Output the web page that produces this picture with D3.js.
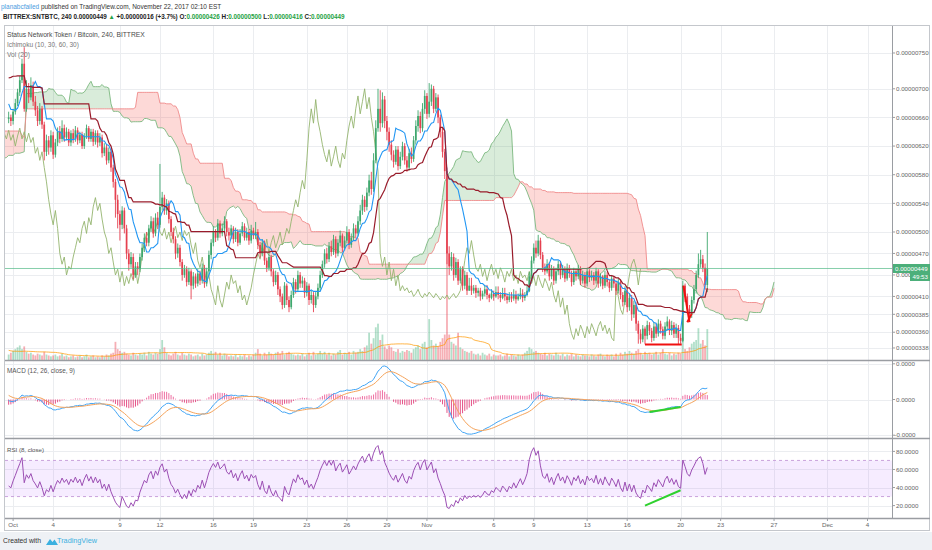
<!DOCTYPE html>
<html><head><meta charset="utf-8">
<script src="https://cdn.jsdelivr.net/npm/d3@7/dist/d3.min.js"></script>
<style>
html,body{margin:0;padding:0;background:#fff;}
svg{display:block;font-family:"Liberation Sans",Arial,sans-serif;}
</style></head><body>
<svg id="c" width="932" height="550"></svg>
<script>
// ---------------- DATA (prices in satoshi = 1e-8 BTC) ----------------
// history before the visible window (needed for the Ichimoku cloud / MACD warm-up)
const firstOpen = 660;
const preCloses = [660,668,675,670,685,700,712,695,690,705,688,680,692,676,670,682,665,672,660,668,
655,662,648,652,640,645,632,638,625,630,620,626,615,622,610,616,605,612,600,608,598,604,595,600,590,596,
585,590,578,582,572,576,566,570,560,565,562,558,640,648,
655,645,652,660,650,656,662,655,720,
710,735,742,725,712,730,748,722,708,720,700,710,
685,670,690,675,662,676,652,666,658];
const preHighs = [666,672,680,680,690,706,728,716,700,710,708,692,698,696,680,688,686,678,676,672,
670,666,664,658,654,650,648,642,640,634,634,630,628,626,624,620,618,616,614,612,610,608,606,604,602,600,
598,594,592,586,584,580,578,574,572,568,568,566,652,654,
660,658,658,666,662,660,668,664,790,
740,748,760,748,730,738,756,752,726,725,722,714,
712,690,696,694,678,680,680,670,670];
const preLows = [654,656,664,664,666,680,696,690,684,686,682,674,676,670,664,666,660,660,654,656,
650,650,642,644,634,636,628,628,620,620,616,616,610,610,604,606,600,600,594,596,592,594,590,590,584,586,
580,580,574,574,566,568,560,562,556,556,556,554,560,640,
644,640,642,650,645,648,652,648,650,
698,706,728,716,704,708,725,715,700,702,694,696,
680,664,666,668,655,658,646,648,652];
const preVolumes = [6,5,7,6,8,9,12,7,6,8,5,6,7,5,4,6,5,6,4,5,
5,4,6,5,4,5,6,4,5,3,4,5,4,6,3,4,5,4,3,5,4,6,3,4,5,4,
5,6,4,5,6,7,5,6,7,6,8,6,7,5,
8,9,6,7,8,6,7,9,40,
25,22,20,16,14,15,18,12,10,11,9,10,
8,9,10,7,6,8,9,7,8];

// visible 4h bars, first bar = 30 Sep 2017 16:00
const closes = [
660,655,668,680,695,712,735,672,700,688,
705,682,670,655,672,650,612,628,618,635,
608,625,640,630,645,632,640,625,638,630,
642,628,636,620,634,645,630,640,626,638,
625,632,610,618,600,612,590,570,545,525,
510,530,505,470,455,465,440,452,448,465,
478,492,485,505,515,498,520,510,535,548,
530,540,518,500,490,470,478,458,440,448,
430,445,425,438,428,442,432,450,428,445,
468,485,500,492,512,498,505,515,500,495,
505,490,500,485,498,508,492,500,488,502,
495,500,482,470,485,460,450,465,445,430,
440,420,410,398,425,405,395,412,430,420,
440,428,432,415,425,405,412,398,410,422,
440,455,470,462,480,472,490,470,485,495,
478,488,500,482,492,505,498,515,530,545,
535,555,572,560,600,645,672,652,685,655,
640,622,608,598,615,592,605,620,600,590,
610,602,628,648,662,645,672,690,665,682,
700,672,688,660,640,612,585,470,452,465,
440,458,432,448,425,440,418,425,418,422,
415,418,410,414,420,412,408,414,410,416,
412,408,414,410,405,410,407,412,406,410,
414,408,412,418,438,460,478,470,488,468,
450,445,455,438,448,432,445,455,440,448,
435,450,442,430,445,438,448,432,440,428,
445,436,440,432,445,428,438,425,440,430,
422,435,428,418,430,412,402,418,395,408,
385,398,372,358,350,365,355,370,362,352,
368,358,372,364,355,368,375,362,370,358,
366,352,348,425,410,392,385,405,420,440,
455,462,450,426,449];
const highs = [
668,664,672,686,700,718,742,758,712,708,
716,710,690,676,680,676,654,636,634,642,
640,630,646,648,656,650,646,644,642,644,
648,646,640,640,638,650,648,644,644,642,
642,638,636,624,622,618,616,594,574,552,
530,536,534,510,476,472,470,458,458,470,
484,498,500,510,522,520,526,528,595,556,
552,546,544,522,506,494,484,482,462,454,
452,450,448,444,442,448,446,456,454,450,
474,490,508,504,518,516,512,522,518,506,
510,508,506,504,504,514,512,506,504,510,
506,514,504,486,490,488,464,470,468,448,
446,444,424,414,430,428,410,418,436,434,
446,444,438,436,430,428,418,416,416,428,
446,460,476,478,486,488,496,494,490,502,
498,494,508,504,498,512,510,522,538,552,
550,562,580,584,610,656,700,698,695,690,
662,646,628,614,620,620,612,626,624,606,
616,618,634,656,670,668,680,698,694,708,
706,704,694,692,664,646,616,590,480,472,
470,464,462,452,452,446,444,436,436,426,
426,422,422,418,426,426,414,420,418,424,
424,416,422,422,414,416,416,420,418,414,
422,420,416,426,444,466,484,488,496,492,
472,456,462,458,454,452,450,460,458,454,
452,456,454,446,450,448,454,452,446,444,
450,448,446,444,450,448,442,440,446,444,
434,440,438,432,436,434,416,424,422,414,
412,404,402,376,364,370,368,376,374,366,
374,372,378,376,368,374,382,378,376,374,
372,370,358,432,428,414,398,410,426,446,
470,475,468,456,500];
const lows = [
652,648,650,664,676,690,708,668,668,680,
684,676,662,648,650,644,600,606,608,612,
602,604,620,624,626,626,628,620,620,624,
626,622,624,616,616,630,626,626,620,622,
618,620,604,606,594,596,584,562,520,505,
488,504,498,462,446,450,434,436,440,444,
460,472,480,480,500,492,494,504,506,530,
524,524,512,494,484,462,464,452,432,436,
424,426,406,420,422,424,426,428,422,424,
440,462,480,486,488,492,494,500,494,488,
490,484,486,480,482,494,488,488,482,484,
490,490,476,464,466,454,444,446,438,424,
426,412,402,392,394,398,388,392,408,414,
416,422,422,408,410,398,400,388,394,406,
418,436,450,456,458,466,468,464,466,480,
472,474,484,476,478,488,492,494,510,524,
528,530,550,552,556,596,640,640,646,645,
628,612,600,590,594,586,588,600,594,584,
586,596,598,622,640,638,640,665,658,660,
676,666,668,652,632,604,574,455,440,446,
432,436,426,428,418,420,412,418,412,414,
408,410,404,406,410,406,402,406,404,408,
406,402,406,404,400,402,402,404,400,404,
406,402,404,410,416,434,456,464,466,462,
444,440,442,432,434,426,428,440,434,436,
430,432,436,424,426,432,434,426,428,422,
424,430,432,426,428,422,424,420,422,424,
416,418,422,412,414,406,396,398,388,390,
376,380,362,344,344,346,343,350,356,346,
348,352,354,358,350,350,362,356,356,352,
352,343,344,346,402,386,378,380,400,414,
436,450,444,420,416];
const volumes = [
6,8,10,12,14,16,12,15,9,7,
8,6,5,7,6,5,9,6,5,4,
5,6,4,5,7,4,5,3,4,5,
3,4,5,3,4,6,3,4,5,3,
4,3,5,4,6,5,7,8,20,12,
10,8,9,7,6,5,8,6,5,7,
6,8,5,9,7,6,8,7,12,22,
14,8,6,5,7,9,6,5,8,6,
5,7,6,4,5,6,4,7,5,6,
8,10,7,9,6,8,5,7,6,4,
5,4,6,3,5,4,6,3,5,4,
6,8,12,7,5,8,6,9,7,6,
8,9,7,10,6,8,9,7,6,5,
6,5,7,4,6,8,5,9,6,7,
10,7,9,6,8,5,7,6,9,11,
6,8,7,9,6,10,8,9,12,10,
14,16,30,18,24,36,40,22,28,15,
12,16,14,10,9,12,8,10,9,11,
10,8,12,14,16,12,18,20,14,45,
22,16,18,15,20,24,28,120,28,20,
18,16,30,14,12,10,9,8,10,7,
6,7,5,8,6,5,7,4,6,5,
5,6,4,5,7,4,6,5,4,6,
5,6,8,10,14,12,9,10,8,7,
6,8,5,7,6,5,8,6,5,7,
4,6,5,7,4,6,5,4,6,5,
5,4,6,5,4,6,7,5,4,6,
5,6,4,7,5,8,6,9,7,10,
8,7,10,12,8,6,9,7,8,6,
7,9,6,8,12,7,6,8,5,7,
6,8,7,25,12,10,14,18,20,22,
35,18,22,16,34];

// axis ticks
const priceTicks = [750,700,660,620,580,540,500,470,440,410,385,360,338];
const rsiTicks = [80,60,40,20];
const rsiBand = [70,30];
const tickDates = ["2017-10-01","2017-10-04","2017-10-09","2017-10-12","2017-10-16","2017-10-19","2017-10-23","2017-10-26","2017-10-29","2017-11-01","2017-11-06","2017-11-09","2017-11-13","2017-11-16","2017-11-20","2017-11-23","2017-11-27","2017-12-01","2017-12-04"];
const tickLabels = ["Oct","4","9","12","16","19","23","26","29","Nov","6","9","13","16","20","23","27","Dec","4"];

// hand-drawn annotations [start time, start value, end time, end value]
const priceLinesDrawn = [
  ["2017-11-17T08:00Z",343,"2017-11-20T02:00Z",343],
  ["2017-11-20T05:00Z",425,"2017-11-20T16:00Z",374],
  ["2017-11-20T12:00Z",374,"2017-11-20T20:00Z",386]];
const macdLineDrawn = ["2017-11-17T16:00Z","2017-11-20T00:00Z"];
const rsiLineDrawn = ["2017-11-17T08:00Z",20,"2017-11-20T00:00Z",37];

// ---------------- SETUP ----------------
const svg = d3.select("#c");
const PL = 5, PR = 892;
const P1 = {t:26, b:360}, P2 = {t:361, b:438}, P3 = {t:439, b:518};
const BAR = 4*3600*1000;
const t0 = Date.UTC(2017,8,30,16);
const nPre = preCloses.length;
const C = preCloses.concat(closes);
const Hi = preHighs.concat(highs);
const Lo = preLows.concat(lows);
const V = preVolumes.concat(volumes);
const N = C.length;
const O = C.map((c,k)=> k ? C[k-1] : firstOpen);
for (let k=0;k<N;k++){ Hi[k]=Math.max(Hi[k],O[k],C[k]); Lo[k]=Math.min(Lo[k],O[k],C[k]); }
const T = k => new Date(t0 + (k-nPre)*BAR);

const x = d3.scaleUtc().domain([new Date(Date.UTC(2017,9,1)), new Date(Date.UTC(2017,11,1))]).range([13.1, 827.45]);
const y = d3.scaleLinear().domain([321.2, 787.7]).range([P1.b, P1.t]);
const yR = d3.scaleLinear().domain([6.3, 93.7]).range([P3.b, P3.t]);
const yV = d3.scaleLinear().domain([0, d3.max(volumes)]).range([P1.b, P1.b-109]);

// ---------------- INDICATORS ----------------
function mid(k,p){ let h=-Infinity,l=Infinity; for(let j=Math.max(0,k-p+1);j<=k;j++){ if(Hi[j]>h)h=Hi[j]; if(Lo[j]<l)l=Lo[j]; } return (h+l)/2; }
const tenkan = d3.range(N).map(k=>mid(k,10));
const kijun  = d3.range(N).map(k=>mid(k,30));
const cloud  = d3.range(N).map(k=>({t:T(k+30), a:(tenkan[k]+kijun[k])/2, b:mid(k,60)}));
const chikou = d3.range(N).map(k=>({t:T(k-30), v:C[k]}));
function ema(arr,p){ const a=2/(p+1); let prev=arr[0]; return arr.map((v,i)=> prev = i ? a*v+(1-a)*prev : v); }
const e12=ema(C,12), e26=ema(C,26);
const macd = C.map((c,k)=>e12[k]-e26[k]);
const signal = ema(macd,9);
const hist = macd.map((m,k)=>m-signal[k]);
const rsi = new Array(N).fill(null);
{ let ag=0, al=0; const p=8;
  for (let k=1;k<N;k++){ const ch=C[k]-C[k-1], g=Math.max(ch,0), l=Math.max(-ch,0);
    if (k<=p){ ag+=g/p; al+=l/p; if(k===p) rsi[k]=al===0?100:100-100/(1+ag/al); }
    else { ag=(ag*(p-1)+g)/p; al=(al*(p-1)+l)/p; rsi[k]=al===0?100:100-100/(1+ag/al); } } }
const volMA = V.map((v,k)=> k<19 ? null : d3.mean(V.slice(k-19,k+1)));

const vis = d3.range(nPre, N);
const maxAbs = d3.max(vis, k=>Math.max(Math.abs(macd[k]),Math.abs(signal[k])));
const D = maxAbs/0.9;
const yM = d3.scaleLinear().domain([-D, D]).range([P2.b, P2.t]);
const macdTicks = [D*0.927, 0, -D*0.927];

// ---------------- DRAW ----------------
const defs = svg.append("defs");
[["c1",P1],["c2",P2],["c3",P3]].forEach(([id,p])=>{
  defs.append("clipPath").attr("id",id).append("rect").attr("x",PL).attr("y",p.t).attr("width",PR-PL).attr("height",p.b-p.t);
});
svg.append("rect").attr("x",0).attr("y",532).attr("width",932).attr("height",18).attr("fill","#eef1f5");

const grid = svg.append("g").attr("stroke","#ebedf0").attr("stroke-width",1);
tickDates.forEach(d=>{ const xx=Math.round(x(new Date(d+"T00:00:00Z")))+0.5;
  grid.append("line").attr("x1",xx).attr("x2",xx).attr("y1",P1.t).attr("y2",P3.b); });
priceTicks.forEach(v=>{ const yy=Math.round(y(v))+0.5; grid.append("line").attr("x1",PL).attr("x2",PR).attr("y1",yy).attr("y2",yy); });
macdTicks.forEach(v=>{ const yy=Math.round(yM(v))+0.5; grid.append("line").attr("x1",PL).attr("x2",PR).attr("y1",yy).attr("y2",yy); });
rsiTicks.forEach(v=>{ const yy=Math.round(yR(v))+0.5; grid.append("line").attr("x1",PL).attr("x2",PR).attr("y1",yy).attr("y2",yy); });

// ---- price pane
const g1 = svg.append("g").attr("clip-path","url(#c1)");
const ax = d => x(d.t);
g1.append("path").datum(cloud).attr("fill","rgba(67,160,71,0.2)")
  .attr("d", d3.area().x(ax).y0(d=>y(d.b)).y1(d=>y(Math.max(d.a,d.b))));
g1.append("path").datum(cloud).attr("fill","rgba(244,67,54,0.2)")
  .attr("d", d3.area().x(ax).y0(d=>y(d.a)).y1(d=>y(Math.max(d.a,d.b))));
g1.append("path").datum(cloud).attr("fill","none").attr("stroke","#7cb87f").attr("stroke-width",0.9)
  .attr("d", d3.line().x(ax).y(d=>y(d.a)));
g1.append("path").datum(cloud).attr("fill","none").attr("stroke","#ef8a8a").attr("stroke-width",0.9)
  .attr("d", d3.line().x(ax).y(d=>y(d.b)));
// volume
g1.append("g").selectAll("rect").data(vis).join("rect")
  .attr("x",k=>x(T(k))-0.9).attr("width",1.8)
  .attr("y",k=>yV(V[k])).attr("height",k=>P1.b-yV(V[k]))
  .attr("fill",k=> C[k]>=O[k] ? "rgba(83,185,135,0.45)" : "rgba(235,77,92,0.45)");
g1.append("path").datum(vis).attr("fill","none").attr("stroke","#ff9800").attr("stroke-opacity",0.8).attr("stroke-width",0.9)
  .attr("d", d3.line().x(k=>x(T(k))).y(k=>yV(volMA[k])));
// chikou
g1.append("path").datum(chikou).attr("fill","none").attr("stroke","#94b46e").attr("stroke-width",0.9)
  .attr("d", d3.line().x(ax).y(d=>y(d.v)));
// candles
const up="#3ea76d", dn="#e5404f";
const cg = g1.append("g");
cg.selectAll("line").data(vis).join("line")
  .attr("x1",k=>x(T(k))).attr("x2",k=>x(T(k))).attr("y1",k=>y(Hi[k])).attr("y2",k=>y(Lo[k]))
  .attr("stroke",k=>C[k]>=O[k]?up:dn).attr("stroke-width",0.9);
cg.selectAll("rect").data(vis).join("rect")
  .attr("x",k=>x(T(k))-0.85).attr("width",1.7)
  .attr("y",k=>y(Math.max(O[k],C[k]))).attr("height",k=>Math.max(0.8,Math.abs(y(O[k])-y(C[k]))))
  .attr("fill",k=>C[k]>=O[k]?up:dn);
// tenkan / kijun
g1.append("path").datum(vis).attr("fill","none").attr("stroke","#2196f3").attr("stroke-width",1.1)
  .attr("d", d3.line().x(k=>x(T(k))).y(k=>y(tenkan[k])));
g1.append("path").datum(vis).attr("fill","none").attr("stroke","#991c2b").attr("stroke-width",1.2)
  .attr("d", d3.line().x(k=>x(T(k))).y(k=>y(kijun[k])));
// last price line
const lastC = closes[closes.length-1];
g1.append("line").attr("x1",PL).attr("x2",PR).attr("y1",y(lastC)).attr("y2",y(lastC))
  .attr("stroke","#53b987").attr("stroke-opacity",0.7).attr("stroke-width",1);
// drawings
priceLinesDrawn.forEach(([d1,v1,d2,v2])=>{
  g1.append("line").attr("x1",x(new Date(d1))).attr("y1",y(v1)).attr("x2",x(new Date(d2))).attr("y2",y(v2))
    .attr("stroke","#f01010").attr("stroke-width",2);
});

// ---- MACD pane
const g2 = svg.append("g").attr("clip-path","url(#c2)");
g2.append("g").selectAll("line").data(vis).join("line")
  .attr("x1",k=>x(T(k))).attr("x2",k=>x(T(k))).attr("y1",yM(0)).attr("y2",k=>yM(hist[k]))
  .attr("stroke",k=> hist[k]>=0 ? "#ec5f98" : "#e2407a").attr("stroke-width",0.9);
g2.append("path").datum(vis).attr("fill","none").attr("stroke","#42a5f5").attr("stroke-width",1)
  .attr("d", d3.line().x(k=>x(T(k))).y(k=>yM(macd[k])));
g2.append("path").datum(vis).attr("fill","none").attr("stroke","#f5a35a").attr("stroke-width",1)
  .attr("d", d3.line().x(k=>x(T(k))).y(k=>yM(signal[k])));
{ const k1 = nPre + Math.round((new Date(macdLineDrawn[0]) - t0)/BAR), k2 = nPre + Math.round((new Date(macdLineDrawn[1]) - t0)/BAR);
  g2.append("line").attr("x1",x(T(k1))).attr("y1",yM(macd[k1])).attr("x2",x(T(k2))).attr("y2",yM(macd[k2]))
    .attr("stroke","#2fd12f").attr("stroke-width",2); }

// ---- RSI pane
const g3 = svg.append("g").attr("clip-path","url(#c3)");
g3.append("rect").attr("x",PL).attr("width",PR-PL).attr("y",yR(rsiBand[0])).attr("height",yR(rsiBand[1])-yR(rsiBand[0]))
  .attr("fill","rgba(170,80,255,0.11)");
rsiBand.forEach(v=> g3.append("line").attr("x1",PL).attr("x2",PR).attr("y1",yR(v)).attr("y2",yR(v))
  .attr("stroke","#c9a3dc").attr("stroke-dasharray","3,3").attr("stroke-width",1));
g3.append("path").datum(vis.filter(k=>rsi[k]!==null)).attr("fill","none").attr("stroke","#9c4fb4").attr("stroke-width",1)
  .attr("d", d3.line().x(k=>x(T(k))).y(k=>yR(rsi[k])));
g3.append("line").attr("x1",x(new Date(rsiLineDrawn[0]))).attr("y1",yR(rsiLineDrawn[1]))
  .attr("x2",x(new Date(rsiLineDrawn[2]))).attr("y2",yR(rsiLineDrawn[3]))
  .attr("stroke","#2fd12f").attr("stroke-width",2);

// ---- frame & separators
svg.append("rect").attr("x",4.5).attr("y",25.5).attr("width",925).attr("height",505).attr("fill","none").attr("stroke","#c4c7cc");
svg.append("line").attr("x1",PR+0.5).attr("x2",PR+0.5).attr("y1",P1.t).attr("y2",P3.b).attr("stroke","#9a9da2");
[P1.b+0.5, P2.b+0.5, P3.b+0.5].forEach(yy=> svg.append("line").attr("x1",PL).attr("x2",930).attr("y1",yy).attr("y2",yy)
  .attr("stroke","#9a9da2").attr("stroke-width",1.4));

// ---- axes text
const lastC0 = closes[closes.length-1];
const yLast = y(lastC0);
const axisTxt = svg.append("g").attr("font-size",6.2).attr("fill","#666");
priceTicks.forEach(v=>{ const yy=y(v);
  axisTxt.append("line").attr("x1",PR).attr("x2",PR+3).attr("y1",yy).attr("y2",yy).attr("stroke","#9a9da2");
  let s=(v*1e-8).toFixed(8);
  if (yy>yLast+2 && yy<yLast+14) s = s.slice(0,5);   // label half hidden behind the countdown box
  axisTxt.append("text").attr("x",896).attr("y",yy+2.2).text(s); });
macdTicks.forEach(v=>{ const yy=yM(v);
  axisTxt.append("line").attr("x1",PR).attr("x2",PR+3).attr("y1",yy).attr("y2",yy).attr("stroke","#9a9da2");
  axisTxt.append("text").attr("x",v<0?894.5:896).attr("y",yy+2.2).text((v*1e-8).toFixed(4)); });
rsiTicks.forEach(v=>{ const yy=yR(v);
  axisTxt.append("line").attr("x1",PR).attr("x2",PR+3).attr("y1",yy).attr("y2",yy).attr("stroke","#9a9da2");
  axisTxt.append("text").attr("x",896).attr("y",yy+2.2).text(v.toFixed(4)); });
tickDates.forEach((d,i)=>{ const xx=x(new Date(d+"T00:00:00Z"));
  axisTxt.append("line").attr("x1",xx).attr("x2",xx).attr("y1",P3.b).attr("y2",P3.b+3).attr("stroke","#9a9da2");
  axisTxt.append("text").attr("x",xx).attr("y",526.5).attr("text-anchor","middle").text(tickLabels[i]); });

// last price label
{ const yy=yLast;
  svg.append("rect").attr("x",PR+1).attr("y",yy-4.5).attr("width",37).attr("height",9).attr("fill","#4caf7a");
  svg.append("text").attr("x",895).attr("y",yy+2.2).attr("font-size",6.2).attr("fill","#fff").text((lastC0*1e-8).toFixed(8));
  svg.append("rect").attr("x",910).attr("y",yy+4.5).attr("width",20).attr("height",8).attr("fill","#4caf7a");
  svg.append("text").attr("x",912.5).attr("y",yy+10.8).attr("font-size",6.2).attr("fill","#fff").text("49:53"); }

// ---- legends & header (font size fitted to the reference text widths)
function fit(t,w){ const n=t.node(); const len=n.getComputedTextLength(); if(len>0) t.attr("font-size", (+t.attr("font-size"))*w/len); return t; }
function txt(xp,yp,size,color,str,w,weight){ const t=svg.append("text").attr("x",xp).attr("y",yp).attr("font-size",size).attr("fill",color).text(str);
  if(weight) t.attr("font-weight",weight); if(w) fit(t,w); return t; }
txt(7,37.3,6.8,"#4a4a4a","Status Network Token / Bitcoin, 240, BITTREX",138);
txt(7,47.3,6.8,"#777","Ichimoku (10, 30, 60, 30)",72);
txt(7,57.3,6.8,"#777","Vol (20)",23);
txt(7,373.3,6.8,"#555","MACD (12, 26, close, 9)",68);
txt(7,452.3,6.8,"#555","RSI (8, close)",37);

const h1 = svg.append("text").attr("x",1).attr("y",8.6).attr("font-size",7);
h1.append("tspan").attr("fill","#4a9be0").text("planabcfailed");
h1.append("tspan").attr("fill","#333").text(" published on TradingView.com, November 22, 2017 02:10 EST");
fit(h1,221);
const lastK = N-1, gC = "#25a244", dC = "#222";
const fmt8 = v => (v*1e-8).toFixed(8);
const h2 = svg.append("text").attr("x",3).attr("y",19.2).attr("font-size",7).attr("font-weight","bold");
[["BITTREX:SNTBTC, 240 ",dC],[fmt8(C[lastK])+" ",dC],["▲",gC],[" +0.00000016 (+3.7%) ",dC],["O:",dC],[fmt8(O[lastK]),gC],
 [" H:",dC],[fmt8(Hi[lastK]),gC],[" L:",dC],[fmt8(Lo[lastK]),gC],[" C:",dC],[fmt8(C[lastK]),gC]]
 .forEach(([s,c])=>h2.append("tspan").attr("fill",c).text(s));
fit(h2,342);

// footer
txt(3,543,6.8,"#333","Created with",38);
svg.append("path").attr("d","M46,545 l4,-6 l2.5,3 l2,-2.5 l3.5,5.5 z").attr("fill","#3bb0e0");
txt(57,543,6.8,"#3bb0e0","TradingView",40);
</script>
</body></html>
